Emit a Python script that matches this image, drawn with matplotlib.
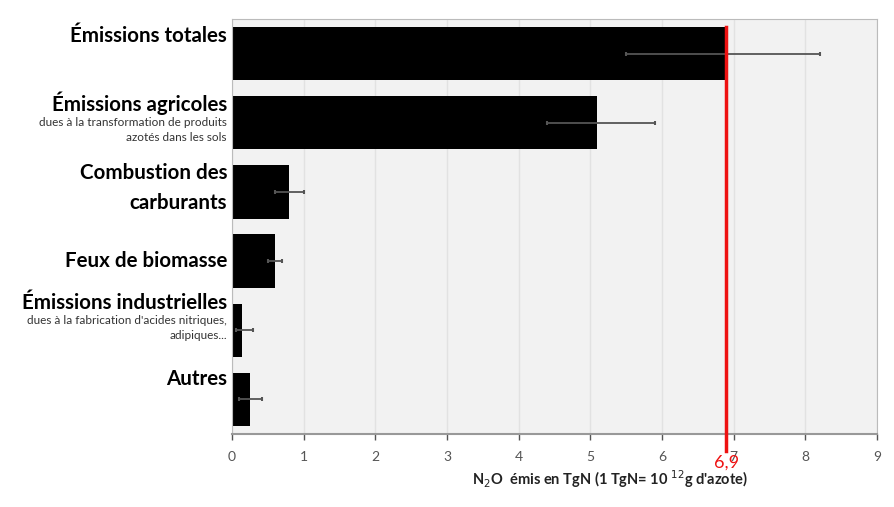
import matplotlib.pyplot as plt
from matplotlib.transforms import blended_transform_factory

# données (TgN)
categories = ["Émissions totales", "Émissions agricoles", "Combustion des\ncarburants",
              "Feux de biomasse", "Émissions industrielles", "Autres"]
sublabels = ["", "dues à la transformation de produits\nazotés dans les sols", "",
             "", "dues à la fabrication d'acides nitriques,\nadipiques...", ""]
values = [6.9, 5.1, 0.8, 0.6, 0.14, 0.25]
err_low = [5.5, 4.4, 0.6, 0.5, 0.05, 0.1]
err_high = [8.2, 5.9, 1.0, 0.7, 0.3, 0.42]
total_mark = 6.9
total_label = "6,9"

plt.rcParams['font.family'] = ['Lato', 'DejaVu Sans']

fig = plt.figure(figsize=(8.94, 5.07), dpi=100)
ax = fig.add_axes([232/894, 1-434/507, 645/894, 415/507])
ax.set_facecolor('#f2f2f2')

ys = list(range(len(categories)))
xerr = [[v - lo for v, lo in zip(values, err_low)],
        [hi - v for v, hi in zip(values, err_high)]]
ax.barh(ys, values, height=0.77, color='black', zorder=2)
ax.errorbar(values, ys, xerr=xerr, fmt='none', ecolor='#555555',
            elinewidth=1.3, capsize=1.5, capthick=1.5, zorder=3)

ax.set_xlim(0, 9)
ax.set_ylim(5.5, -0.5)
ax.set_xticks(range(10))
ax.set_yticks([])
ax.grid(axis='x', color='#e2e2e2', linewidth=1, zorder=0)
ax.tick_params(axis='x', colors='#555555', labelsize=10, length=4, width=1, pad=8)
for s in ['top', 'right', 'left']:
    ax.spines[s].set_color('#bbbbbb')
ax.spines['bottom'].set_color('#999999')
ax.spines['bottom'].set_linewidth(1.5)

# étiquettes des catégories
tr = blended_transform_factory(fig.transFigure, ax.transData)
xr = 227/894
main_off = [-0.25, -0.28, -0.06, 0.0, -0.39, -0.29]
sub_off = [0, 0.11, 0, 0, -0.03, 0]
for i, (lab, sub) in enumerate(zip(categories, sublabels)):
    ax.text(xr, i + main_off[i], lab, transform=tr, ha='right', va='center',
            fontsize=14.8, fontweight='bold', linespacing=1.6, clip_on=False)
    if sub:
        ax.text(xr, i + sub_off[i], sub, transform=tr, ha='right', va='center',
                fontsize=8.5, color='#333333', linespacing=1.45, clip_on=False)

# ligne rouge
ax.plot([total_mark, total_mark], [-0.39, 5.75], color='#ee1111', linewidth=2.5,
        zorder=4, clip_on=False)
ax.text(total_mark, 5.92, total_label, color='#ee1111', fontsize=13,
        ha='center', va='center', clip_on=False)

fig.text(610/894, 1-479/507, "N$_2$O  émis en TgN (1 TgN= 10 $^{12}$g d'azote)",
         ha='center', va='center', fontsize=10.5, fontweight='bold', color='#222222')

fig.savefig('out.png', dpi=100)
